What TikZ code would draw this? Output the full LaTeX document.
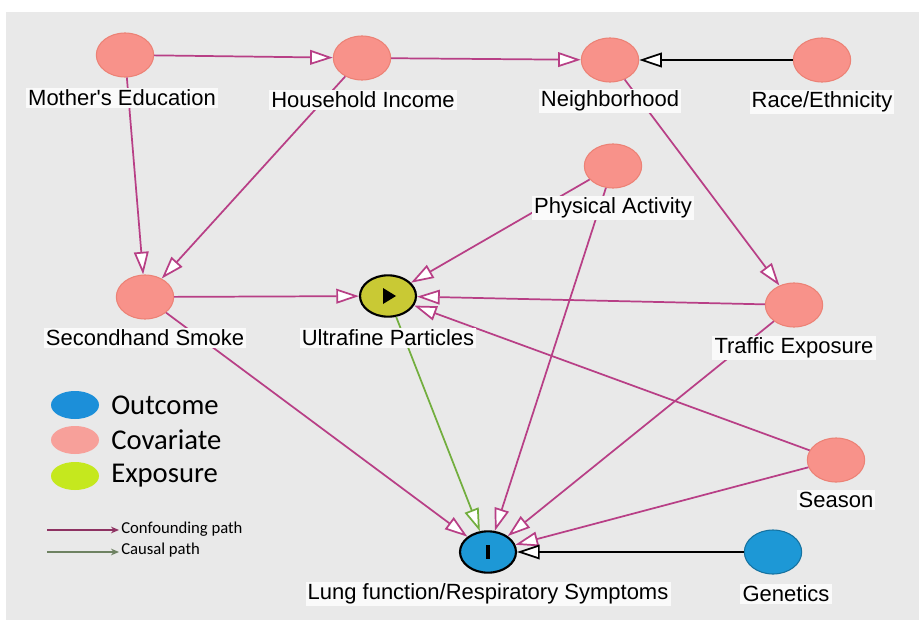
\documentclass[tikz,border=0pt]{standalone}
\usepackage{fontspec}
\setmainfont{Liberation Sans}
\newfontfamily\arialfont[Ligatures=ResetAll]{Liberation Sans}
\newfontfamily\calfont{Carlito}
\usetikzlibrary{arrows.meta,shapes.geometric,calc}
\definecolor{bgc}{HTML}{E9E9E9}
\definecolor{covf}{HTML}{F8928A}
\definecolor{covb}{HTML}{EC8276}
\definecolor{edgec}{HTML}{B83F86}
\definecolor{causalc}{HTML}{72AE3E}
\definecolor{expof}{HTML}{C9C934}
\definecolor{outf}{HTML}{1D98D6}
\definecolor{leg1}{HTML}{1C8FD9}
\definecolor{leg2}{HTML}{F7A09A}
\definecolor{leg3}{HTML}{C5E81E}
\definecolor{legconf}{HTML}{8E3262}
\definecolor{legcaus}{HTML}{6E8262}
\begin{document}
\begin{tikzpicture}[x=0.75pt,y=-0.75pt,
  covnode/.style={ellipse, fill=covf, draw=covb, line width=0.8pt, minimum width=43pt, minimum height=33pt, inner sep=0pt},
  outnode/.style={ellipse, fill=outf, draw=black, line width=1.6pt, minimum width=42pt, minimum height=31pt, inner sep=0pt},
  exponode/.style={ellipse, fill=expof, draw=black, line width=1.6pt, minimum width=42pt, minimum height=31pt, inner sep=0pt},
  genenode/.style={ellipse, fill=outf, draw=outf!75!black, line width=0.8pt, minimum width=43pt, minimum height=33pt, inner sep=0pt},
  lab/.style={fill=white!75!bgc, inner sep=1.6pt, font=\arialfont\fontsize{16.5}{19}\selectfont},
  headtip/.style={-{Triangle[length=17pt,width=11pt,fill=white]}},
  conf/.style={draw=edgec, line width=1.3pt, headtip},
  caus/.style={draw=causalc, line width=1.3pt, headtip},
  blk/.style={draw=black, line width=1.3pt, headtip},
  legell/.style={ellipse, minimum width=36pt, minimum height=21pt, inner sep=0pt},
  legtxt/.style={anchor=west, inner sep=0pt, font=\calfont\fontsize{21.5}{24}\selectfont},
  legsmall/.style={anchor=west, inner sep=0pt, font=\calfont\fontsize{12.5}{14}\selectfont}
]
\useasboundingbox (0,0) rectangle (919,620);
\fill[white] (0,0) rectangle (919,620);
\fill[bgc] (6,12) rectangle (919,620);

% nodes
\node[covnode] (med) at (125,55) {};
\node[covnode] (hinc) at (362,58) {};
\node[covnode] (nbh) at (610,60) {};
\node[covnode] (race) at (822,60) {};
\node[covnode] (pa) at (613,166) {};
\node[covnode] (ss) at (145,297) {};
\node[exponode] (ufp) at (388,296) {};
\node[covnode] (tex) at (794,305) {};
\node[covnode] (sea) at (836,460) {};
\node[outnode] (lung) at (488,552) {};
\node[genenode] (gen) at (773,552) {};

% symbols inside
\fill[black] ($(ufp)+(-5,-8)$) -- ($(ufp)+(8,0)$) -- ($(ufp)+(-5,8)$) -- cycle;
\fill[black] ($(lung)+(-2,-7)$) rectangle ($(lung)+(2,7)$);

% edges
\draw[conf] (med) -- (hinc);
\draw[conf] (hinc) -- (nbh);
\draw[blk] (race) -- (nbh);
\draw[conf] (med) -- (ss);
\draw[conf] (hinc) -- (ss);
\draw[conf] (nbh) -- (tex);
\draw[conf] (pa) -- (ufp);
\draw[conf] (pa) -- (lung);
\draw[conf] (ss) -- (ufp);
\draw[conf] (tex) -- (ufp);
\draw[conf] (sea) -- (ufp);
\draw[conf] (ss) -- (lung);
\draw[conf] (tex) -- (lung);
\draw[conf] (sea) -- (lung);
\draw[caus] (ufp) -- (lung);
\draw[blk] (gen) -- (lung);

% labels
\node[lab] (lmed) at (122,98) {Mother's Education};
\node[lab] (lhinc) at (363,100) {Household Income};
\node[lab] (lnbh) at (610,101) {Neighborhood};
\node[lab] (lrace) at (822,102) {Race/Ethnicity};
\node[lab] (lpa) at (613,208) {Physical Activity};
\node[lab] (lss) at (145,338) {Secondhand Smoke};
\node[lab] (lufp) at (388,338) {Ultrafine Particles};
\node[lab] (ltex) at (794,348) {Traffic Exposure};
\node[lab] (lsea) at (836,500) {Season};
\node[lab] (llung) at (488,594) {Lung function/Respiratory Symptoms};
\node[lab] (lgen) at (786,594) {Genetics};

% legend
\node[legell, fill=leg1] (k1) at (75,405) {};
\node[legell, fill=leg2] (k2) at (75,440) {};
\node[legell, fill=leg3] (k3) at (75,476) {};
\node[legtxt] (t1) at (111,405) {Outcome};
\node[legtxt] (t2) at (111,440) {Covariate};
\node[legtxt] (t3) at (111,476) {Exposure};
\coordinate (c1a) at (47,530);
\coordinate (c1b) at (119,530);
\coordinate (c2a) at (47,552);
\coordinate (c2b) at (119,552);
\draw[legconf, line width=1.3pt, -{Stealth[length=6pt,width=5pt]}] (c1a) -- (c1b);
\draw[legcaus, line width=1.3pt, -{Stealth[length=6pt,width=5pt]}] (c2a) -- (c2b);
\node[legsmall] (t4) at (121,529) {Confounding path};
\node[legsmall] (t5) at (121,550) {Causal path};
\end{tikzpicture}
\end{document}
